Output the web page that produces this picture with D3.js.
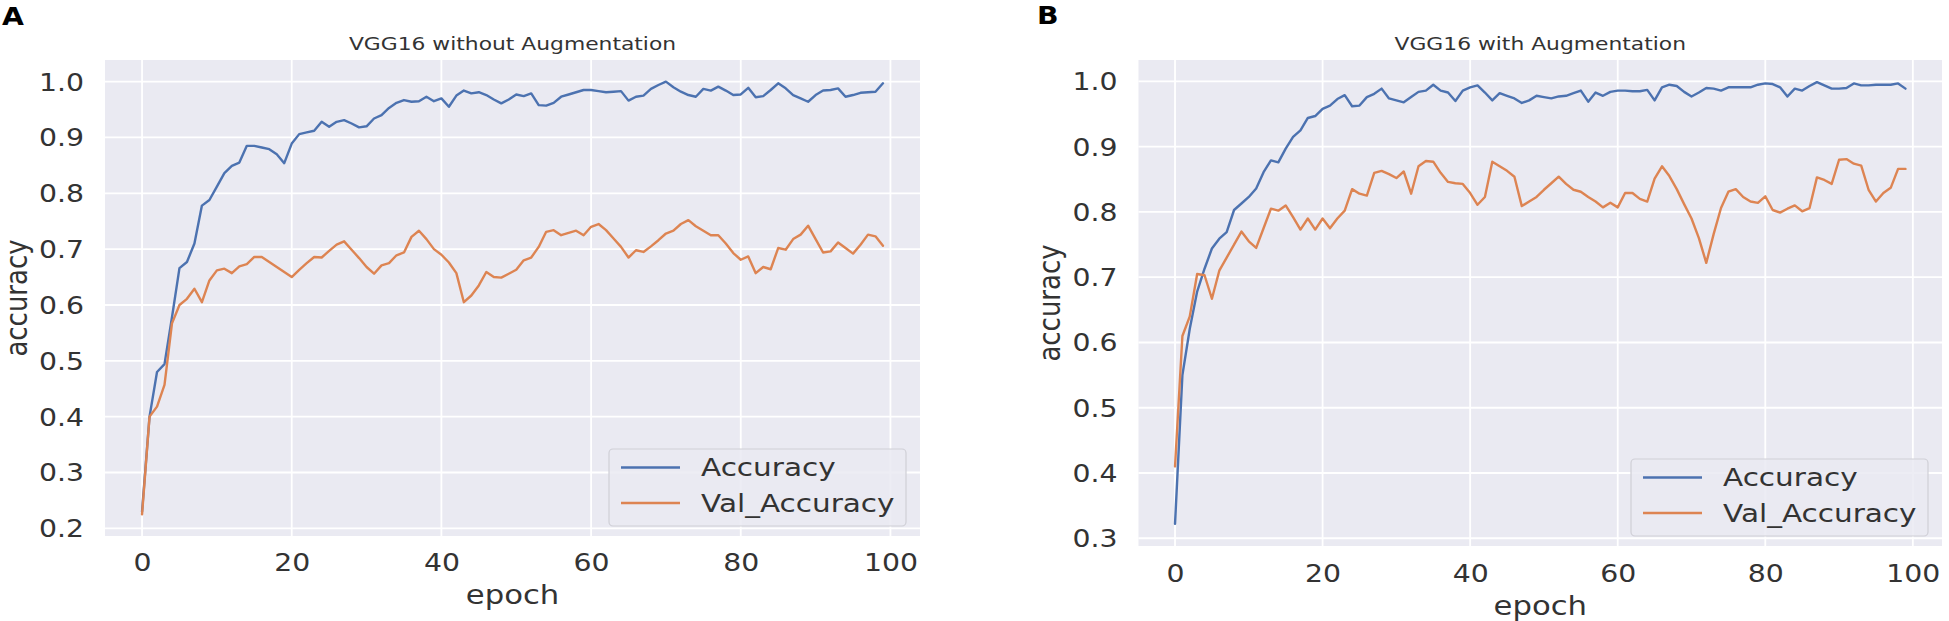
<!DOCTYPE html>
<html>
<head>
<meta charset="utf-8">
<script src="https://cdn.jsdelivr.net/npm/d3@7"></script>
<style>
  html, body { margin: 0; padding: 0; background: #ffffff; }
  svg { display: block; }
  text { font-family: "DejaVu Sans", sans-serif; }
</style>
</head>
<body>
<svg id="chart" width="1949" height="621"></svg>
<script>
// ---------------- data ----------------
const epochs = d3.range(0, 100);
const xTickLabels = [0, 20, 40, 60, 80, 100];
const yTicksA = [0.2, 0.3, 0.4, 0.5, 0.6, 0.7, 0.8, 0.9, 1.0];
const yTicksB = [0.3, 0.4, 0.5, 0.6, 0.7, 0.8, 0.9, 1.0];
const seriesNames = ["Accuracy", "Val_Accuracy"];
const titleA = "VGG16 without Augmentation";
const titleB = "VGG16 with Augmentation";

const accuracyA = [
  0.23, 0.40, 0.48, 0.494, 0.578, 0.666, 0.677, 0.71, 0.778, 0.788,
  0.812, 0.836, 0.849, 0.855, 0.885, 0.885, 0.882, 0.879, 0.87, 0.854,
  0.889, 0.906, 0.909, 0.912, 0.928, 0.919, 0.928, 0.931, 0.925, 0.918,
  0.92, 0.934, 0.94, 0.953, 0.962, 0.967, 0.964, 0.965, 0.973, 0.965,
  0.97, 0.955, 0.975, 0.984, 0.979, 0.981, 0.976, 0.968, 0.961, 0.968,
  0.977, 0.974, 0.979, 0.958, 0.957, 0.962, 0.973, 0.977, 0.981, 0.985,
  0.985, 0.983, 0.981, 0.982, 0.983, 0.966, 0.973, 0.975, 0.987, 0.994,
  1.0, 0.99, 0.982, 0.976, 0.973, 0.987, 0.984, 0.991, 0.984, 0.976,
  0.977, 0.989, 0.972, 0.974, 0.985, 0.997, 0.988, 0.976, 0.97, 0.964,
  0.976, 0.984, 0.985, 0.988, 0.973, 0.976, 0.98, 0.981, 0.982, 0.997
];
const valAccuracyA = [
  0.225, 0.40, 0.418, 0.457, 0.567, 0.60, 0.611, 0.629, 0.605, 0.644,
  0.662, 0.665, 0.657, 0.669, 0.673, 0.686, 0.686, 0.677, 0.668, 0.659,
  0.65, 0.663, 0.675, 0.686, 0.685, 0.697, 0.708, 0.714, 0.699, 0.684,
  0.668, 0.656, 0.671, 0.675, 0.689, 0.694, 0.722, 0.733, 0.718, 0.70,
  0.69, 0.676, 0.657, 0.605, 0.617, 0.635, 0.659, 0.65, 0.649, 0.656,
  0.663, 0.68, 0.685, 0.704, 0.731, 0.734, 0.725, 0.729, 0.733, 0.725,
  0.74, 0.745, 0.734, 0.719, 0.704, 0.685, 0.698, 0.695, 0.705, 0.716,
  0.728, 0.733, 0.745, 0.752, 0.741, 0.733, 0.725, 0.725, 0.71, 0.693,
  0.681, 0.687, 0.657, 0.668, 0.664, 0.702, 0.699, 0.718, 0.726, 0.742,
  0.718, 0.694, 0.696, 0.712, 0.702, 0.692, 0.708, 0.726, 0.723, 0.706
];
const accuracyB = [
  0.322, 0.55, 0.621, 0.678, 0.713, 0.744, 0.759, 0.769, 0.803, 0.813,
  0.823, 0.836, 0.861, 0.879, 0.876, 0.897, 0.915, 0.925, 0.944, 0.947,
  0.958, 0.963, 0.973, 0.979, 0.962, 0.963, 0.976, 0.981, 0.989, 0.974,
  0.971, 0.968, 0.976, 0.984, 0.986, 0.995, 0.986, 0.983, 0.97, 0.986,
  0.991, 0.994, 0.983, 0.971, 0.982, 0.978, 0.974, 0.967, 0.971, 0.978,
  0.976, 0.974, 0.977, 0.978, 0.982, 0.986, 0.969, 0.983, 0.978, 0.984,
  0.986, 0.986, 0.985, 0.985, 0.987, 0.971, 0.991, 0.995, 0.993, 0.984,
  0.977, 0.983, 0.99, 0.989, 0.986, 0.991, 0.991, 0.991, 0.991, 0.995,
  0.997, 0.996, 0.991, 0.977, 0.989, 0.986, 0.993, 0.999, 0.994, 0.989,
  0.989, 0.99, 0.997, 0.994, 0.994, 0.995, 0.995, 0.995, 0.997, 0.989
];
const valAccuracyB = [
  0.41, 0.61, 0.64, 0.705, 0.703, 0.667, 0.71, 0.73, 0.75, 0.77,
  0.755, 0.745, 0.775, 0.805, 0.802, 0.81, 0.792, 0.773, 0.79, 0.773,
  0.79, 0.775, 0.79, 0.802, 0.835, 0.828, 0.825, 0.86, 0.863, 0.858,
  0.852, 0.862, 0.828, 0.87, 0.878, 0.877, 0.86, 0.846, 0.844, 0.843,
  0.829, 0.811, 0.823, 0.877, 0.87, 0.863, 0.854, 0.809, 0.816, 0.823,
  0.834, 0.844, 0.854, 0.843, 0.834, 0.831, 0.823, 0.816, 0.807, 0.814,
  0.807, 0.829, 0.829, 0.82, 0.816, 0.851, 0.87, 0.855, 0.835, 0.812,
  0.79, 0.76, 0.722, 0.766, 0.806, 0.831, 0.835, 0.823, 0.816, 0.814,
  0.824, 0.803, 0.799, 0.805, 0.81, 0.801, 0.806, 0.853, 0.849, 0.843,
  0.88, 0.881, 0.874, 0.871, 0.834, 0.816, 0.829, 0.837, 0.866, 0.866
];

// ---------------- style ----------------
const COLORS = ["#4c72b0", "#dd8452"];
const BG = "#eaeaf2";
const TEXT = "#333333";
const SX = 1.18;          // horizontal text stretch of the reference image

const svg = d3.select("#chart");

function stretchText(sel, x, y) {
  sel.attr("x", 0).attr("y", 0)
     .attr("transform", `translate(${x},${y}) scale(${SX},1)`);
}

function drawPanel(cfg) {
  const { left, right, top, bottom, acc, val, yTicks, title, letter, letterX, letterY } = cfg;
  const g = svg.append("g");

  const all = acc.concat(val);
  const [mn, mx] = d3.extent(all);
  const pad = (mx - mn) * 0.05;
  const x = d3.scaleLinear().domain([-4.95, 103.95]).range([left, right]);
  const y = d3.scaleLinear().domain([mn - pad, mx + pad]).range([bottom, top]);

  // background
  g.append("rect").attr("x", left).attr("y", top)
    .attr("width", right - left).attr("height", bottom - top).attr("fill", BG);

  // grid
  g.append("g").selectAll("line.gy").data(yTicks).join("line")
    .attr("x1", left).attr("x2", right)
    .attr("y1", d => y(d)).attr("y2", d => y(d))
    .attr("stroke", "#ffffff").attr("stroke-width", 1.8);
  g.append("g").selectAll("line.gx").data(xTickLabels).join("line")
    .attr("y1", top).attr("y2", bottom)
    .attr("x1", d => x(d)).attr("x2", d => x(d))
    .attr("stroke", "#ffffff").attr("stroke-width", 1.8);

  // y axis
  const ya = g.append("g").attr("transform", `translate(${left},0)`)
    .call(d3.axisLeft(y).tickValues(yTicks).tickSize(0).tickFormat(d3.format(".1f")));
  ya.select(".domain").remove();
  ya.selectAll(".tick text").each(function () {
    const t = d3.select(this);
    t.attr("dy", "0.35em").attr("text-anchor", "end")
     .attr("font-size", 24).attr("fill", TEXT).attr("font-family", "DejaVu Sans");
    stretchText(t, -21, 0);
  });

  // x axis
  const xa = g.append("g").attr("transform", `translate(0,${bottom})`)
    .call(d3.axisBottom(x).tickValues(xTickLabels).tickSize(0).tickFormat(d3.format("d")));
  xa.select(".domain").remove();
  xa.selectAll(".tick text").each(function () {
    const t = d3.select(this);
    t.attr("dy", "0.35em").attr("text-anchor", "middle")
     .attr("font-size", 24).attr("fill", TEXT).attr("font-family", "DejaVu Sans");
    stretchText(t, 0, cfg.xLabelOff);
  });

  // lines
  const line = d3.line().x((d, i) => x(epochs[i])).y(d => y(d));
  [acc, val].forEach((s, k) => {
    g.append("path").datum(s).attr("d", line)
      .attr("fill", "none").attr("stroke", COLORS[k])
      .attr("stroke-width", 2.4).attr("stroke-linejoin", "round").attr("stroke-linecap", "round");
  });

  // title
  const cx = (left + right) / 2;
  stretchText(g.append("text").text(title).attr("text-anchor", "middle")
    .attr("font-size", 18.5).attr("fill", TEXT), cx, 50);

  // axis labels
  stretchText(g.append("text").text("epoch").attr("text-anchor", "middle")
    .attr("dy", "0.35em").attr("font-size", 26).attr("fill", TEXT), cx, cfg.epochY);
  g.append("text").text("accuracy").attr("text-anchor", "middle")
    .attr("dy", "0.35em").attr("font-size", 26).attr("fill", TEXT)
    .attr("transform", `translate(${cfg.ylabelX},${(top + bottom) / 2}) scale(${SX},1) rotate(-90)`);

  // legend
  const bw = 297, bh = 77;
  const bx = right - 14 - bw, by = bottom - 10 - bh;
  g.append("rect").attr("x", bx).attr("y", by).attr("width", bw).attr("height", bh)
    .attr("rx", 4).attr("fill", BG).attr("fill-opacity", 0.85)
    .attr("stroke", "#cfcfd6").attr("stroke-width", 1.2);
  seriesNames.forEach((name, k) => {
    const ry = by + 18.5 + k * 35.5;
    g.append("line").attr("x1", bx + 12).attr("x2", bx + 71)
      .attr("y1", ry).attr("y2", ry).attr("stroke", COLORS[k]).attr("stroke-width", 2.4);
    stretchText(g.append("text").text(name).attr("dy", "0.35em")
      .attr("font-size", 25).attr("fill", TEXT), bx + 92, ry);
  });

  // panel letter
  stretchText(svg.append("text").text(letter)
    .attr("font-family", "Liberation Sans, Arial, sans-serif")
    .attr("font-weight", "bold").attr("font-size", 24).attr("fill", "#000"), letterX, letterY);
}

drawPanel({ left: 105, right: 920, top: 60, bottom: 536, acc: accuracyA, val: valAccuracyA,
  yTicks: yTicksA, title: titleA, letter: "A", letterX: 2, letterY: 25,
  xLabelOff: 27, epochY: 595, ylabelX: 16 });
drawPanel({ left: 1138.5, right: 1942, top: 60, bottom: 546, acc: accuracyB, val: valAccuracyB,
  yTicks: yTicksB, title: titleB, letter: "B", letterX: 1037, letterY: 24,
  xLabelOff: 28, epochY: 606, ylabelX: 1049 });
</script>
</body>
</html>
